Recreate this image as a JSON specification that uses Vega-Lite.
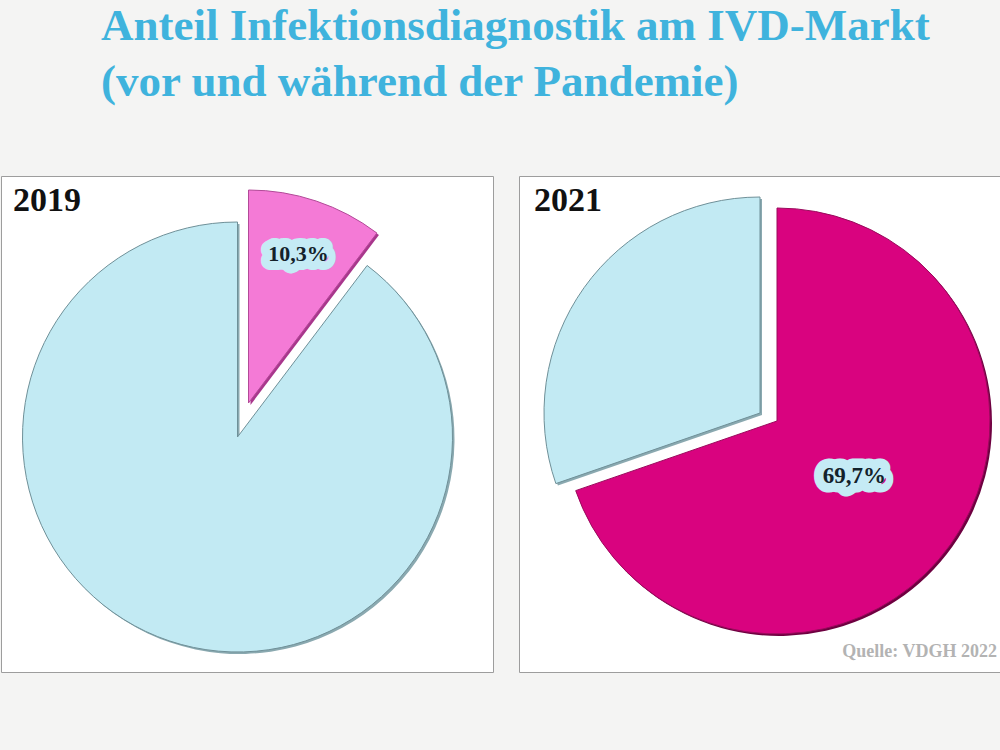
{
  "$schema": "https://vega.github.io/schema/vega-lite/v6.json",
  "background": "#f4f4f3",
  "padding": {"left": 0, "top": 3, "right": 0, "bottom": 78},
  "title": {
    "text": ["Anteil Infektionsdiagnostik am IVD-Markt", "(vor und während der Pandemie)"],
    "anchor": "start",
    "frame": "group",
    "dx": 100,
    "font": "Liberation Serif",
    "fontSize": 45,
    "fontWeight": "bold",
    "color": "#3fb3dd",
    "lineHeight": 56,
    "offset": 71
  },
  "spacing": 24,
  "config": {"view": {"stroke": "#9d9d9d", "fill": "#ffffff"}},
  "hconcat": [
    {
      "width": 492,
      "height": 496,
      "view": {"stroke": "#9d9d9d", "fill": "#ffffff"},
      "title": {"text": "2019", "anchor": "start", "frame": "group", "dx": 12, "offset": -42, "font": "Liberation Serif", "fontSize": 34, "fontWeight": "bold", "color": "#111111"},
      "data": {"values": [
        {"cat": "Infektionsdiagnostik", "value": 10.3, "label": "10,3%"},
        {"cat": "Sonstige", "value": 89.7, "label": ""}
      ]},
      "layer": [
        {
          "mark": {"type": "arc", "outerRadius": 215, "xOffset": -7.5, "yOffset": 15, "fill": "#8aa9b0"},
          "encoding": {
            "theta": {"field": "value", "type": "quantitative", "stack": true},
            "order": {"field": "cat", "type": "ordinal"},
            "opacity": {"condition": {"test": "datum.cat === 'Sonstige'", "value": 1}, "value": 0}
          }
        },
        {
          "mark": {"type": "arc", "outerRadius": 215, "xOffset": -9.5, "yOffset": 13, "stroke": "#6f9098", "strokeWidth": 1, "fill": "#c2eaf3"},
          "encoding": {
            "theta": {"field": "value", "type": "quantitative", "stack": true},
            "order": {"field": "cat", "type": "ordinal"},
            "opacity": {"condition": {"test": "datum.cat === 'Sonstige'", "value": 1}, "value": 0}
          }
        },
        {
          "mark": {"type": "arc", "outerRadius": 213, "xOffset": 3.5, "yOffset": -19, "fill": "#a8368c"},
          "encoding": {
            "theta": {"field": "value", "type": "quantitative", "stack": true},
            "order": {"field": "cat", "type": "ordinal"},
            "opacity": {"condition": {"test": "datum.cat === 'Infektionsdiagnostik'", "value": 1}, "value": 0}
          }
        },
        {
          "mark": {"type": "arc", "outerRadius": 213, "xOffset": 1.5, "yOffset": -21, "stroke": "#b24a98", "strokeWidth": 1, "fill": "#f47ad6"},
          "encoding": {
            "theta": {"field": "value", "type": "quantitative", "stack": true},
            "order": {"field": "cat", "type": "ordinal"},
            "opacity": {"condition": {"test": "datum.cat === 'Infektionsdiagnostik'", "value": 1}, "value": 0}
          }
        },
        {
          "mark": {"type": "text", "radius": 157, "xOffset": 1.5, "yOffset": -21, "font": "Liberation Serif", "fontWeight": "bold", "fontSize": 22, "stroke": "#c5ebf5", "strokeWidth": 18, "strokeJoin": "round", "fill": "#c5ebf5", "baseline": "middle", "align": "center"},
          "encoding": {
            "theta": {"field": "value", "type": "quantitative", "stack": true},
            "order": {"field": "cat", "type": "ordinal"},
            "text": {"field": "label"}
          }
        },
        {
          "mark": {"type": "text", "radius": 157, "xOffset": 1.5, "yOffset": -21, "font": "Liberation Serif", "fontWeight": "bold", "fontSize": 22, "fill": "#13222b", "baseline": "middle", "align": "center"},
          "encoding": {
            "theta": {"field": "value", "type": "quantitative", "stack": true},
            "order": {"field": "cat", "type": "ordinal"},
            "text": {"field": "label"}
          }
        }
      ]
    },
    {
      "width": 484,
      "height": 496,
      "view": {"stroke": "#9d9d9d", "fill": "#ffffff"},
      "title": {"text": "2021", "anchor": "start", "frame": "group", "dx": 15, "offset": -42, "font": "Liberation Serif", "fontSize": 34, "fontWeight": "bold", "color": "#111111"},
      "data": {"values": [
        {"cat": "Infektionsdiagnostik", "value": 69.7, "label": "69,7%"},
        {"cat": "Sonstige", "value": 30.3, "label": ""}
      ]},
      "layer": [
        {
          "mark": {"type": "arc", "outerRadius": 216, "xOffset": 1, "yOffset": -9, "fill": "#8aa9b0"},
          "encoding": {
            "theta": {"field": "value", "type": "quantitative", "stack": true},
            "order": {"field": "cat", "type": "ordinal"},
            "opacity": {"condition": {"test": "datum.cat === 'Sonstige'", "value": 1}, "value": 0}
          }
        },
        {
          "mark": {"type": "arc", "outerRadius": 216, "xOffset": -1, "yOffset": -11, "stroke": "#6f9098", "strokeWidth": 1, "fill": "#c2eaf3"},
          "encoding": {
            "theta": {"field": "value", "type": "quantitative", "stack": true},
            "order": {"field": "cat", "type": "ordinal"},
            "opacity": {"condition": {"test": "datum.cat === 'Sonstige'", "value": 1}, "value": 0}
          }
        },
        {
          "mark": {"type": "arc", "outerRadius": 213, "xOffset": 18, "yOffset": -1, "fill": "#6e0040"},
          "encoding": {
            "theta": {"field": "value", "type": "quantitative", "stack": true},
            "order": {"field": "cat", "type": "ordinal"},
            "opacity": {"condition": {"test": "datum.cat === 'Infektionsdiagnostik'", "value": 1}, "value": 0}
          }
        },
        {
          "mark": {"type": "arc", "outerRadius": 213, "xOffset": 16, "yOffset": -3, "stroke": "#9a0a5c", "strokeWidth": 1, "fill": "#d9037f"},
          "encoding": {
            "theta": {"field": "value", "type": "quantitative", "stack": true},
            "order": {"field": "cat", "type": "ordinal"},
            "opacity": {"condition": {"test": "datum.cat === 'Infektionsdiagnostik'", "value": 1}, "value": 0}
          }
        },
        {
          "mark": {"type": "text", "radius": 95, "xOffset": 16, "yOffset": -3, "font": "Liberation Serif", "fontWeight": "bold", "fontSize": 23, "stroke": "#c5ebf5", "strokeWidth": 19, "strokeJoin": "round", "fill": "#c5ebf5", "baseline": "middle", "align": "center"},
          "encoding": {
            "theta": {"field": "value", "type": "quantitative", "stack": true},
            "order": {"field": "cat", "type": "ordinal"},
            "text": {"field": "label"}
          }
        },
        {
          "mark": {"type": "text", "radius": 95, "xOffset": 16, "yOffset": -3, "font": "Liberation Serif", "fontWeight": "bold", "fontSize": 23, "fill": "#13222b", "baseline": "middle", "align": "center"},
          "encoding": {
            "theta": {"field": "value", "type": "quantitative", "stack": true},
            "order": {"field": "cat", "type": "ordinal"},
            "text": {"field": "label"}
          }
        },
        {
          "data": {"values": [{"source": "Quelle: VDGH 2022"}]},
          "mark": {"type": "text", "x": "width", "y": "height", "dx": -6, "dy": -15, "align": "right", "baseline": "alphabetic", "font": "Liberation Serif", "fontWeight": "bold", "fontSize": 18, "fill": "#b3b3b3"},
          "encoding": {"text": {"field": "source"}}
        }
      ]
    }
  ]
}
